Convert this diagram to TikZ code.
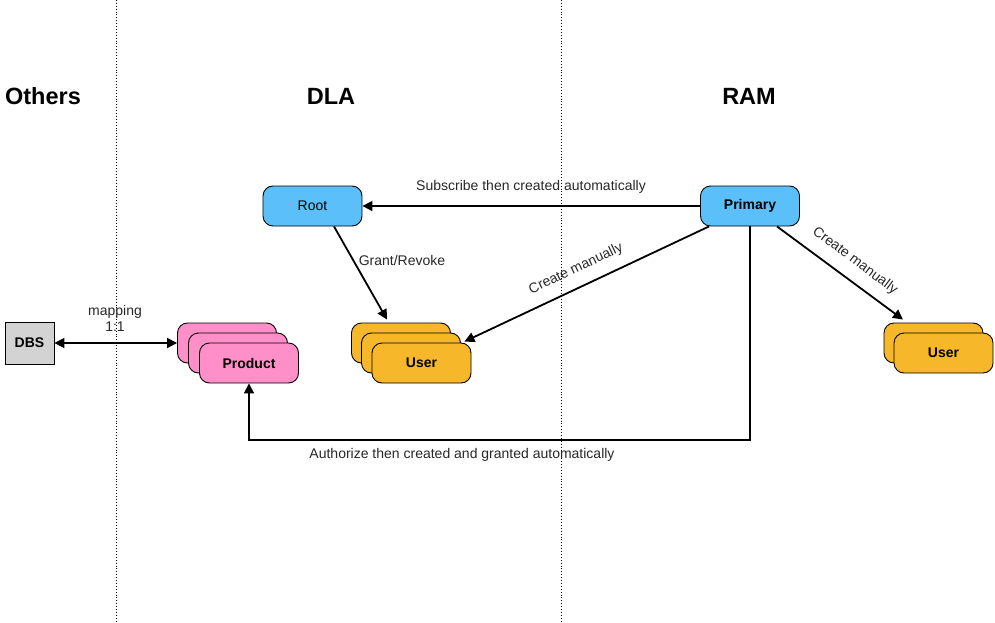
\documentclass[tikz,border=0pt]{standalone}
\usepackage{fontspec}
\setmainfont{Liberation Sans}
\usetikzlibrary{arrows.meta,calc}
\definecolor{boxblue}{RGB}{91,192,250}
\definecolor{boxorange}{RGB}{247,183,43}
\definecolor{boxpink}{RGB}{255,143,200}
\definecolor{boxgray}{RGB}{211,211,211}
\definecolor{labelgray}{RGB}{40,40,40}
\tikzset{
  box/.style={draw=black, line width=0.9pt, rounded corners=10pt,
    minimum width=99pt, minimum height=40pt, inner sep=0pt,
    font=\bfseries\fontsize{14}{16}\selectfont},
  bluebox/.style={box, fill=boxblue},
  orangebox/.style={box, fill=boxorange},
  pinkbox/.style={box, fill=boxpink},
  graybox/.style={draw=black, line width=0.9pt, fill=boxgray,
    minimum width=49pt, minimum height=42pt, inner sep=0pt,
    font=\bfseries\fontsize{14}{16}\selectfont},
  conn/.style={draw=black, line width=1.8pt, -{Triangle[length=10pt,width=10pt]}},
  lbl/.style={text=labelgray, font=\fontsize{14}{16}\selectfont, inner sep=1pt},
  heading/.style={font=\bfseries\fontsize{23.5}{27}\selectfont},
  divider/.style={draw=black, line width=0.9pt, dotted},
}
\begin{document}
\begin{tikzpicture}[x=1pt,y=-1pt]
\useasboundingbox[fill=white] (0,0) rectangle (995,623);

% dividers
\coordinate (d1t) at (116,0);
\coordinate (d1b) at (116,623);
\coordinate (d2t) at (561,0);
\coordinate (d2b) at (561,623);
\draw[divider] (d1t) -- (d1b);
\draw[divider] (d2t) -- (d2b);

% headings
\node[heading] (hOthers) at (43,96) {Others};
\node[heading] (hDLA) at (331,96) {DLA};
\node[heading] (hRAM) at (749,96) {RAM};

% nodes
\node[graybox] (dbs) at (29.5,343) {DBS};

\node[pinkbox] (prodA) at (227,343) {};
\node[pinkbox] (prodB) at (238,353) {};
\node[pinkbox] (prod) at (249,363) {Product};

\node[bluebox, font=\fontsize{14}{16}\selectfont] (root) at (312.5,206) {Root};
\node[bluebox] (primary) at (750,206) {Primary};

\node[orangebox] (userA) at (401,343) {};
\node[orangebox] (userB) at (411,353) {};
\node[orangebox] (user) at (421.5,363) {User};

\node[orangebox] (ramA) at (933.5,343) {};
\node[orangebox] (ram) at (943.5,353) {User};

% connectors
\draw[conn, {Triangle[length=10pt,width=10pt]}-{Triangle[length=10pt,width=10pt]}] (dbs) -- (prodA);
\node[lbl, align=center] (mapLbl) at (115,318) {mapping\\1:1};

\draw[conn] (primary) -- (root);
\node[lbl] (subLbl) at (531,187) {Subscribe then created automatically};

\draw[conn] ([xshift=21.5pt]root.south) -- ([xshift=-14pt,yshift=3pt]userA.north);
\node[lbl] (grantLbl) at (402,260) {Grant/Revoke};

\draw[conn] ([xshift=-41pt]primary.south) -- ([xshift=-7pt,yshift=1pt]user.north east);
\node[lbl, rotate=25.3] (cm1Lbl) at (576,269) {Create manually};

\draw[conn] ([xshift=27pt]primary.south) -- ([xshift=-30.5pt,yshift=3pt]ramA.north);
\node[lbl, rotate=-36.7] (cm2Lbl) at (855,261) {Create manually};

\coordinate (bend) at (249,440);
\draw[conn] (primary.south) |- (bend) -- (prod.south);
\node[lbl] (authLbl) at (462,455) {Authorize then created and granted automatically};

\end{tikzpicture}
\end{document}
